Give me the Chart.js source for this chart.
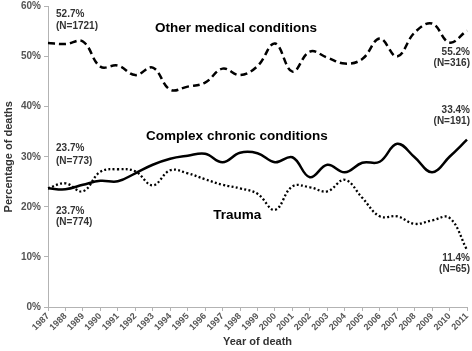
<!DOCTYPE html>
<html>
<head>
<meta charset="utf-8">
<script src="https://cdn.jsdelivr.net/npm/chart.js@4"></script>
<style>
  html, body { margin: 0; padding: 0; background: #fff; }
  #wrap { width: 472px; height: 351px; }
</style>
</head>
<body>
<div id="wrap"><canvas id="deathsChart" width="472" height="351"></canvas></div>
<script>
// Percentage of deaths by year, three cause groups
const years = ['1987','1988','1989','1990','1991','1992','1993','1994','1995','1996','1997','1998',
  '1999','2000','2001','2002','2003','2004','2005','2006','2007','2008','2009','2010','2011'];

const otherMedical = [52.7, 52.5, 53.0, 48.0, 48.2, 46.3, 47.8, 43.4, 44.0, 44.8, 47.6, 46.3,
  48.1, 52.6, 47.0, 51.0, 49.8, 48.6, 49.5, 53.6, 50.0, 54.8, 56.6, 52.8, 55.2];

const complexChronic = [23.7, 23.5, 24.4, 25.2, 25.1, 26.7, 28.4, 29.6, 30.2, 30.6, 28.9, 30.8,
  30.7, 28.9, 29.9, 25.9, 28.4, 26.9, 28.8, 29.0, 32.6, 29.9, 26.9, 30.0, 33.4];

const trauma = [23.7, 24.7, 23.1, 27.0, 27.5, 27.1, 24.3, 27.3, 26.7, 25.5, 24.4, 23.7,
  22.6, 19.4, 24.1, 23.9, 23.1, 25.4, 21.8, 18.1, 18.1, 16.6, 17.3, 17.8, 11.4];

const yTicks = [0, 10, 20, 30, 40, 50, 60];

// text notes placed in data space: [text, x index, y %, align, size]
const notes = [
  ['Other medical conditions', 6.13, 55.7, 'left', 13.5],
  ['Complex chronic conditions', 5.62, 34.0, 'left', 13.5],
  ['Trauma', 9.46, 18.4, 'left', 13.5],
  ['52.7%', 0.46, 58.4, 'left', 10],
  ['(N=1721)', 0.46, 56.0, 'left', 10],
  ['23.7%', 0.46, 31.6, 'left', 10],
  ['(N=773)', 0.46, 29.2, 'left', 10],
  ['23.7%', 0.46, 19.2, 'left', 10],
  ['(N=774)', 0.46, 17.0, 'left', 10],
  ['55.2%', 24.17, 50.8, 'right', 10],
  ['(N=316)', 24.17, 48.7, 'right', 10],
  ['33.4%', 24.17, 39.3, 'right', 10],
  ['(N=191)', 24.17, 37.1, 'right', 10],
  ['11.4%', 24.17, 9.7, 'right', 10],
  ['(N=65)', 24.17, 7.5, 'right', 10]
];

const FONT = '"Liberation Sans", Arial, sans-serif';
const AXIS_GREY = '#b3b3b3';
const TEXT_GREY = '#555555';

const notesPlugin = {
  id: 'notes',
  afterDatasetsDraw(chart) {
    const { ctx, scales } = chart;
    ctx.save();
    ctx.textBaseline = 'middle';
    notes.forEach(([text, xi, yv, align, size]) => {
      const px = scales.x.left + (scales.x.right - scales.x.left) * xi / (years.length - 1);
      const py = scales.y.getPixelForValue(yv);
      ctx.font = 'bold ' + size + 'px ' + FONT;
      ctx.fillStyle = size > 11 ? '#000' : '#333';
      ctx.textAlign = align;
      ctx.fillText(text, px, py);
    });
    ctx.restore();
  }
};

const lineSet = (data, dash, width) => ({
  data: data,
  borderColor: '#000',
  borderWidth: width,
  borderDash: dash,
  borderCapStyle: 'butt',
  fill: false,
  tension: 0.4,
  pointRadius: 0
});

new Chart(document.getElementById('deathsChart').getContext('2d'), {
  type: 'line',
  data: {
    labels: years,
    datasets: [
      lineSet(otherMedical, [7, 4], 2.5),
      lineSet(complexChronic, [], 2.5),
      lineSet(trauma, [2, 2.3], 2.3)
    ]
  },
  options: {
    responsive: false,
    animation: false,
    layout: { padding: { top: 6.5, right: 5, left: 0, bottom: 0 } },
    plugins: { legend: { display: false }, tooltip: { enabled: false } },
    scales: {
      x: {
        grid: { display: true, drawOnChartArea: false, color: AXIS_GREY, tickLength: 4 },
        border: { color: AXIS_GREY, width: 1 },
        ticks: {
          autoSkip: false, minRotation: 45, maxRotation: 45, padding: 0,
          color: TEXT_GREY, font: { family: FONT, size: 9, weight: 'bold' }
        },
        title: {
          display: true, text: 'Year of death', color: '#333',
          font: { family: FONT, size: 11, weight: 'bold' }, padding: { top: 2, bottom: 2 }
        },
        afterFit(scale) {
          scale.height = 44;
          scale.paddingLeft = 0;
          scale.paddingRight = 0;
        }
      },
      y: {
        min: yTicks[0],
        max: yTicks[yTicks.length - 1],
        grid: { display: true, drawOnChartArea: false, color: AXIS_GREY, tickLength: 4 },
        border: { color: AXIS_GREY, width: 1 },
        ticks: {
          stepSize: yTicks[1] - yTicks[0],
          padding: 3, color: TEXT_GREY,
          font: { family: FONT, size: 10, weight: 'bold' },
          callback: v => v + '%'
        },
        title: {
          display: true, text: 'Percentage of deaths', color: '#333',
          font: { family: FONT, size: 11, weight: 'bold' }, padding: { top: 2, bottom: 0 }
        },
        afterFit(scale) {
          scale.width = 48;
          scale.paddingTop = 0;
          scale.paddingBottom = 0;
        }
      }
    }
  },
  plugins: [notesPlugin]
});
</script>
</body>
</html>
